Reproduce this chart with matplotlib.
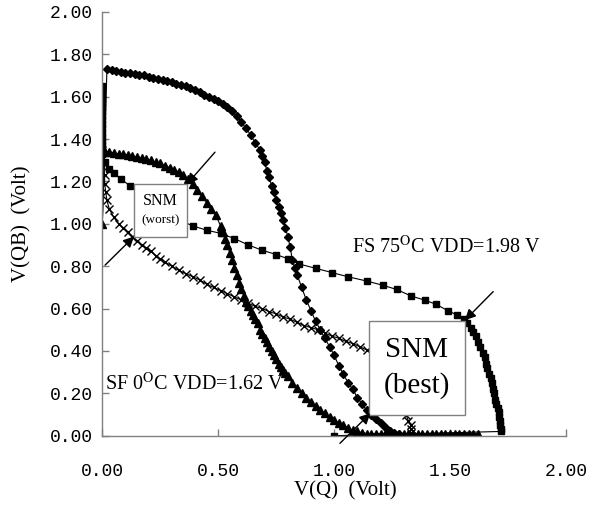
import matplotlib
matplotlib.use('Agg')
import matplotlib.pyplot as plt
from matplotlib.patches import Rectangle

plt.rcParams['mathtext.fontset'] = 'stix'

# FS corner, inverter 1 (diamonds)
fs_d_x = [0.00, 0.02, 0.04, 0.06, 0.08, 0.10, 0.12, 0.14, 0.16, 0.18, 0.20, 0.22, 0.24, 0.26,
          0.28, 0.30, 0.32, 0.34, 0.36, 0.38, 0.40, 0.42, 0.44, 0.46, 0.48, 0.50, 0.52, 0.54,
          0.56, 0.58, 0.60, 0.62, 0.64, 0.66, 0.68, 0.69, 0.70, 0.71, 0.72, 0.73, 0.74, 0.75,
          0.76, 0.77, 0.78, 0.79, 0.80, 0.81, 0.82, 0.83, 0.84, 0.86, 0.88, 0.90, 0.92, 0.94,
          0.96, 0.98, 1.00, 1.02, 1.04, 1.06, 1.08, 1.10, 1.12, 1.14, 1.16, 1.18, 1.20, 1.22,
          1.24, 1.26, 1.28, 1.30]
fs_d_y = [1.00, 1.73, 1.725, 1.72, 1.715, 1.71, 1.71, 1.705, 1.70, 1.70, 1.695, 1.69, 1.685, 1.68,
          1.675, 1.67, 1.66, 1.655, 1.65, 1.64, 1.63, 1.62, 1.61, 1.60, 1.59, 1.58, 1.565, 1.55,
          1.53, 1.51, 1.48, 1.45, 1.42, 1.38, 1.35, 1.32, 1.29, 1.25, 1.22, 1.18, 1.15, 1.11,
          1.08, 1.05, 1.02, 0.98, 0.94, 0.89, 0.83, 0.79, 0.76, 0.70, 0.64, 0.59, 0.54, 0.50,
          0.46, 0.42, 0.38, 0.33, 0.29, 0.25, 0.22, 0.18, 0.15, 0.12, 0.10, 0.08, 0.06, 0.04,
          0.02, 0.015, 0.01, 0.00]

# FS corner, inverter 2 (squares)
fs_s_x = [0.00, 0.00, 0.00, 0.00, 0.00, 0.00, 0.00, 0.00, 0.00, 0.00, 0.00, 0.00, 0.00, 0.00,
          0.00, 0.00, 0.00, 0.01, 0.03, 0.05, 0.08, 0.12, 0.16, 0.20, 0.25, 0.30, 0.35, 0.39,
          0.45, 0.51, 0.57, 0.63, 0.69, 0.75, 0.80, 0.85, 0.92, 0.99, 1.06, 1.14, 1.21, 1.27,
          1.33, 1.39, 1.44, 1.49, 1.53, 1.56, 1.575, 1.59, 1.60, 1.61, 1.62, 1.63, 1.64, 1.65,
          1.655, 1.66, 1.67, 1.675, 1.68, 1.685, 1.69, 1.695, 1.70, 1.705, 1.71, 1.71, 1.715,
          1.715, 1.72, 1.72, 1.00]
fs_s_y = [1.65, 1.63, 1.61, 1.59, 1.57, 1.55, 1.53, 1.51, 1.49, 1.47, 1.45, 1.43, 1.41, 1.39,
          1.37, 1.35, 1.33, 1.29, 1.26, 1.24, 1.21, 1.18, 1.14, 1.10, 1.06, 1.03, 1.01, 0.99,
          0.97, 0.955, 0.93, 0.90, 0.875, 0.855, 0.835, 0.81, 0.79, 0.77, 0.75, 0.73, 0.71, 0.69,
          0.66, 0.64, 0.62, 0.59, 0.57, 0.55, 0.53, 0.51, 0.49, 0.47, 0.44, 0.42, 0.39, 0.37,
          0.34, 0.32, 0.29, 0.27, 0.25, 0.22, 0.20, 0.17, 0.15, 0.13, 0.11, 0.09, 0.07,
          0.05, 0.03, 0.02, 0.00]

# SF corner, inverter 1 (triangles)
sf_t_x = [0.00, 0.01, 0.03, 0.05, 0.07, 0.09, 0.11, 0.13, 0.15, 0.17, 0.19, 0.21, 0.23, 0.25,
          0.27, 0.29, 0.31, 0.33, 0.35, 0.37, 0.39, 0.41, 0.43, 0.45, 0.47, 0.49, 0.51, 0.52,
          0.53, 0.54, 0.55, 0.56, 0.57, 0.58, 0.59, 0.60, 0.61, 0.62, 0.63, 0.64, 0.65, 0.66,
          0.67, 0.68, 0.69, 0.70, 0.71, 0.72, 0.73, 0.74, 0.75, 0.76, 0.77, 0.78, 0.79, 0.80,
          0.82, 0.84, 0.86, 0.88, 0.90, 0.92, 0.94, 0.96, 0.98, 1.00, 1.02, 1.04, 1.06, 1.08,
          1.10, 1.12, 1.14, 1.16, 1.18, 1.20, 1.22, 1.24, 1.26, 1.28, 1.30, 1.32, 1.34, 1.36,
          1.38, 1.40, 1.42, 1.44, 1.46, 1.48, 1.50, 1.52, 1.54, 1.56, 1.58, 1.60, 1.62]
sf_t_y = [1.00, 1.34, 1.34, 1.335, 1.33, 1.33, 1.325, 1.32, 1.315, 1.31, 1.305, 1.30, 1.29, 1.285,
          1.275, 1.265, 1.255, 1.245, 1.23, 1.21, 1.19, 1.16, 1.13, 1.10, 1.07, 1.04, 0.99, 0.96,
          0.93, 0.90, 0.86, 0.83, 0.79, 0.76, 0.72, 0.69, 0.66, 0.63, 0.61, 0.59, 0.57, 0.55,
          0.53, 0.50, 0.48, 0.46, 0.44, 0.42, 0.40, 0.38, 0.36, 0.34, 0.325, 0.31, 0.295, 0.28,
          0.25, 0.225, 0.20, 0.18, 0.16, 0.14, 0.12, 0.105, 0.09, 0.075, 0.06, 0.05, 0.035, 0.025,
          0.02, 0.015, 0.01, 0.01, 0.01, 0.01, 0.01, 0.01, 0.01, 0.01, 0.01, 0.01, 0.01, 0.01,
          0.01, 0.01, 0.01, 0.01, 0.01, 0.01, 0.01, 0.01, 0.01, 0.01, 0.01, 0.01, 0.01]

# SF corner, inverter 2 (crosses)
sf_c_x = [0.00, 0.00, 0.005, 0.01, 0.01, 0.015, 0.02, 0.03, 0.05, 0.07, 0.09, 0.11, 0.13, 0.15,
          0.17, 0.19, 0.21, 0.23, 0.25, 0.27, 0.30, 0.33, 0.36, 0.39, 0.42, 0.45, 0.48, 0.51,
          0.54, 0.57, 0.60, 0.63, 0.66, 0.69, 0.72, 0.75, 0.78, 0.81, 0.84, 0.87, 0.90, 0.93,
          0.96, 0.99, 1.02, 1.05, 1.08, 1.11, 1.14, 1.17, 1.20, 1.22, 1.24, 1.26, 1.28, 1.30,
          1.31, 1.32, 1.33, 1.33, 1.33, 1.33]
sf_c_y = [1.35, 1.31, 1.27, 1.23, 1.19, 1.15, 1.11, 1.07, 1.03, 1.00, 0.98, 0.96, 0.94, 0.92,
          0.90, 0.885, 0.87, 0.85, 0.835, 0.82, 0.80, 0.78, 0.765, 0.75, 0.735, 0.715, 0.70, 0.685,
          0.67, 0.655, 0.64, 0.625, 0.61, 0.60, 0.585, 0.575, 0.56, 0.55, 0.535, 0.52, 0.51, 0.50,
          0.485, 0.47, 0.46, 0.445, 0.435, 0.42, 0.405, 0.385, 0.36, 0.33, 0.29, 0.24, 0.19, 0.13,
          0.10, 0.07, 0.05, 0.03, 0.015, 0.00]

ticks = [0.0, 0.5, 1.0, 1.5, 2.0]
yticks = [0.0, 0.2, 0.4, 0.6, 0.8, 1.0, 1.2, 1.4, 1.6, 1.8, 2.0]

fig = plt.figure(figsize=(6.06, 5.08), dpi=100)
ax = fig.add_axes([102.3 / 606, 72.3 / 508, 463.7 / 606, 423.8 / 508])

ax.plot(fs_d_x, fs_d_y, color='black', lw=0.8, marker='D', ms=4.5, markevery=slice(1, None))
ax.plot(fs_s_x, fs_s_y, color='black', lw=0.8, marker='s', ms=5.0)
ax.plot(sf_t_x, sf_t_y, color='black', lw=0.8, marker='^', ms=5.5)
ax.plot(sf_c_x, sf_c_y, color='black', lw=0.8, marker='x', ms=6, mew=1.0)

ax.set_xlim(0, 2)
ax.set_ylim(0, 2)
ax.set_xticks(ticks)
ax.set_yticks(yticks)
ax.set_xticklabels(['%.2f' % t for t in ticks])
ax.set_yticklabels(['%.2f' % t for t in yticks])
for lab in ax.get_xticklabels() + ax.get_yticklabels():
    lab.set_fontfamily('Liberation Mono')
    lab.set_fontsize(13)
ax.tick_params(axis='both', direction='in', length=5, color='#808080', width=1)
ax.tick_params(axis='y', pad=7)
ax.tick_params(axis='x', pad=20)
for side in ['top', 'right']:
    ax.spines[side].set_visible(False)
for side in ['left', 'bottom']:
    ax.spines[side].set_color('#808080')
    ax.spines[side].set_linewidth(1)

ax.set_xlabel('V(Q)  (Volt)', family='Liberation Serif', fontsize=15)
ax.set_ylabel('V(QB)  (Volt)', family='Liberation Serif', fontsize=15)
ax.xaxis.set_label_coords(0.523, -0.108)
ax.yaxis.set_label_coords(-0.152, 0.5)

# corner labels
ax.text(1.077, 0.86, 'FS 75$^{\\mathrm{O}}$C VDD=1.98 V', family='Liberation Serif',
        fontsize=14.5, va='baseline', ha='left', zorder=4)
ax.text(0.012, 0.215, 'SF 0$^{\\mathrm{O}}$C VDD=1.62 V', family='Liberation Serif',
        fontsize=14.5, va='baseline', ha='left', zorder=4)

# SNM boxes
ax.add_patch(Rectangle((0.137, 0.94), 0.228, 0.247, facecolor='white',
                       edgecolor='#808080', lw=1, zorder=3))
ax.text(0.252, 1.106, 'SNM', family='Liberation Serif', fontsize=11.5,
        ha='center', va='center', zorder=4)
ax.text(0.252, 1.018, '(worst)', family='Liberation Serif', fontsize=9.5,
        ha='center', va='center', zorder=4)

ax.add_patch(Rectangle((1.150, 0.098), 0.414, 0.443, facecolor='white',
                       edgecolor='#808080', lw=1, zorder=3))
ax.text(1.356, 0.404, 'SNM', family='Liberation Serif', fontsize=21,
        ha='center', va='center', zorder=4)
ax.text(1.356, 0.239, '(best)', family='Liberation Serif', fontsize=21,
        ha='center', va='center', zorder=4)

# arrows to box corners
arrow = dict(arrowstyle='-|>', color='black', lw=1, mutation_scale=16, shrinkA=0, shrinkB=0)
ax.annotate('', xy=(0.365, 1.187), xytext=(0.486, 1.338), arrowprops=arrow, zorder=5)
ax.annotate('', xy=(0.137, 0.94), xytext=(0.012, 0.805), arrowprops=arrow, zorder=5)
ax.annotate('', xy=(1.564, 0.545), xytext=(1.686, 0.68), arrowprops=arrow, zorder=5)
ax.annotate('', xy=(1.156, 0.106), xytext=(1.025, -0.036), arrowprops=arrow, zorder=5,
            annotation_clip=False)

plt.savefig('out.png', dpi=100)
plt.close()
